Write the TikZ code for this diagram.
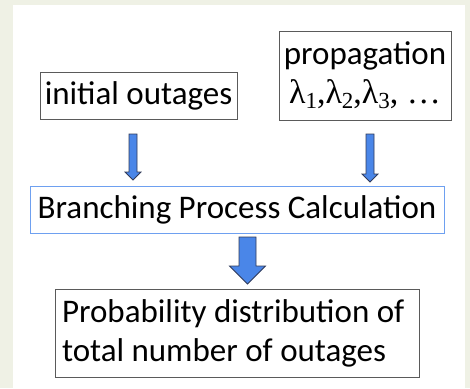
\documentclass[tikz,border=0pt]{standalone}
\usepackage{fontspec}
\setmainfont{Carlito}
\newfontfamily\lamfont{Liberation Serif}
\usetikzlibrary{calc}
\definecolor{pagebg}{RGB}{239,241,229}
\definecolor{boxgray}{RGB}{90,90,90}
\definecolor{calcblue}{RGB}{110,160,240}
\definecolor{arrowblue}{RGB}{74,134,232}
\definecolor{arrowline}{RGB}{50,60,90}
\newcommand{\blockarrow}[5]{%
	\draw[blockarrow] let \p1=(#1), \p2=(#2) in
		(\x1-#3,\y1) -- (\x1+#3,\y1) -- (\x1+#3,\y2+#5) -- (\x1+#4,\y2+#5)
		-- (\x2,\y2) -- (\x1-#4,\y2+#5) -- (\x1-#3,\y2+#5) -- cycle;}
\newcommand{\lamsub}[1]{λ\raisebox{-0.28ex}{\fontsize{23}{23}\selectfont #1}}
\begin{document}
\begin{tikzpicture}[x=1pt,y=-1pt,line join=miter]
				\tikzset{every node/.style={font=\fontsize{33}{39}\selectfont, inner sep=0pt},
					plainbox/.style={draw=boxgray, line width=0.8pt},
					calcbox/.style={draw=calcblue, line width=1pt},
					blockarrow/.style={fill=arrowblue, draw=arrowline, line width=0.8pt}}
				\fill[pagebg] (0,0) rectangle (470,388);
				\fill[white] (13,5) rectangle (465,388);
				\node[plainbox, minimum width=197pt, minimum height=47pt] (init) at (138.5,95.5) {initial outages};
				\node[plainbox, minimum width=172pt, minimum height=89pt, align=center] (prop) at (365,75.5)
					{propagation\\{\lamfont\fontsize{34}{39}\selectfont\lamsub{1},\lamsub{2},\lamsub{3}, …}};
				\node[calcbox, minimum width=414pt, minimum height=47pt] (calc) at (237,209.5) {Branching Process Calculation};
				\node[plainbox, text width=350pt, inner xsep=7pt, minimum height=88pt, align=flush left] (prob) at (237,333)
					{Probability distribution of\\total number of outages};
				\coordinate (inittop) at (133,134);
				\coordinate (inittip) at (133,180);
				\coordinate (proptop) at (370,134);
				\coordinate (proptip) at (370,182);
				\coordinate (calctop) at (247.5,237);
				\coordinate (calctip) at (247.5,284);
				\blockarrow{inittop}{inittip}{4pt}{8pt}{8pt}
				\blockarrow{proptop}{proptip}{4pt}{8pt}{8pt}
				\blockarrow{calctop}{calctip}{8.5pt}{18pt}{18pt}
			\end{tikzpicture}
\end{document}
